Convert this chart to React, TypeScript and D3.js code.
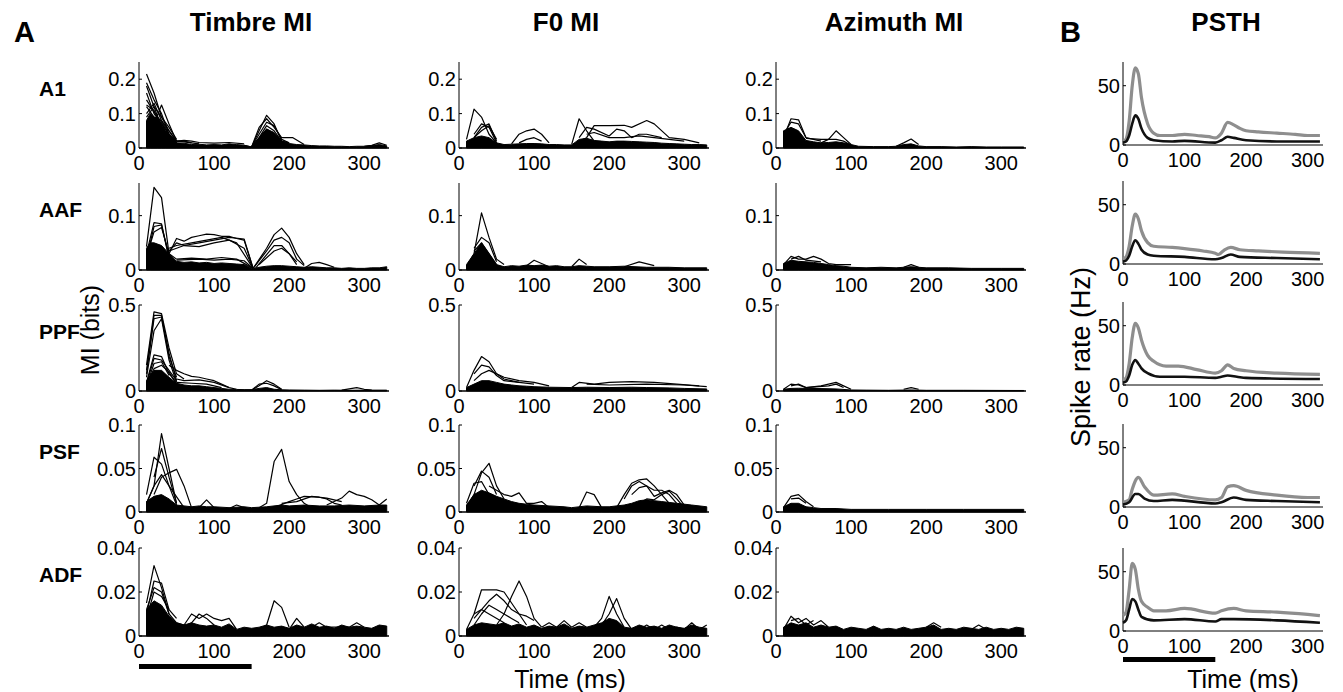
import React from "react";
import * as d3 from "d3";

type P = [number, number];

// ---------------- Panel labels / ticks ----------------
const rowNames = ["A1", "AAF", "PPF", "PSF", "ADF"];
const colTitles = ["Timbre MI", "F0 MI", "Azimuth MI"];
const miYMax = [0.25, 0.16, 0.5, 0.1, 0.04];
const miYTicks = [[0, 0.1, 0.2], [0, 0.1], [0, 0.5], [0, 0.05, 0.1], [0, 0.02, 0.04]];
const miXTicks = [0, 100, 200, 300];
const psthYTicks = [0, 50];
const psthXTicks = [0, 100, 200, 300];
const stimulusMs = [0, 150];

// ---------------- Timbre MI ----------------
const timbreA1Mass: P[] = [[10,0.08],[15,0.1],[20,0.09],[25,0.085],[30,0.07],[35,0.05],[40,0.035],[50,0.015],[60,0.014],[70,0.01],[80,0.011],[90,0.009],[100,0.01],[110,0.009],[120,0.012],[130,0.01],[140,0.008],[150,0.003],[160,0.03],[170,0.055],[180,0.045],[190,0.02],[200,0.013],[210,0.01],[220,0.009],[230,0.007],[240,0.006],[250,0.006],[260,0.005],[270,0.005],[280,0.004],[290,0.005],[300,0.005],[310,0.007],[320,0.01],[330,0.006]];
const timbreA1Lines: P[][] = [
  [[10,0.215],[20,0.16],[30,0.09],[40,0.05],[50,0.02],[60,0.018],[80,0.012]],
  [[10,0.19],[20,0.14],[30,0.1],[40,0.04],[50,0.015]],
  [[10,0.18],[20,0.12],[30,0.06],[50,0.012]],
  [[10,0.05],[20,0.07],[30,0.125],[40,0.07],[50,0.02],[60,0.02],[70,0.015]],
  [[10,0.125],[20,0.11],[30,0.06],[40,0.03],[50,0.01]],
  [[10,0.12],[20,0.09],[30,0.08],[40,0.05],[50,0.02]],
  [[10,0.1],[20,0.13],[30,0.08],[40,0.04],[50,0.015]],
  [[10,0.16],[20,0.1],[30,0.07],[40,0.04],[50,0.02]],
  [[10,0.09],[20,0.12],[30,0.09],[40,0.06],[50,0.025]],
  [[10,0.14],[20,0.105],[30,0.075],[40,0.035],[50,0.015]],
  [[140,0.008],[150,0.003],[160,0.05],[170,0.095],[180,0.07],[190,0.02],[200,0.015]],
  [[150,0.003],[160,0.06],[170,0.085],[180,0.06],[190,0.03],[200,0.03],[205,0.03],[220,0.01]],
  [[150,0.003],[160,0.04],[170,0.075],[180,0.065],[190,0.025],[200,0.015]],
  [[150,0.003],[160,0.03],[170,0.065],[180,0.05],[190,0.02]],
  [[150,0.003],[170,0.055],[180,0.04],[190,0.015]],
  [[50,0.02],[60,0.022],[70,0.02],[80,0.016],[100,0.014],[120,0.016],[140,0.012]],
  [[300,0.005],[310,0.008],[320,0.015],[330,0.008]],
];
const timbreAAFMass: P[] = [[10,0.04],[15,0.05],[20,0.05],[30,0.045],[40,0.03],[50,0.016],[60,0.014],[70,0.015],[80,0.013],[90,0.014],[100,0.012],[110,0.013],[120,0.012],[130,0.011],[140,0.01],[152,0.002],[160,0.005],[170,0.007],[180,0.008],[190,0.008],[200,0.007],[210,0.006],[220,0.005],[230,0.006],[240,0.005],[250,0.004],[260,0.004],[270,0.003],[280,0.004],[290,0.003],[300,0.003],[310,0.004],[320,0.004],[330,0.006]];
const timbreAAFLines: P[][] = [
  [[10,0.043],[20,0.152],[30,0.133],[40,0.03],[50,0.02]],
  [[10,0.03],[20,0.087],[30,0.085],[40,0.02]],
  [[10,0.02],[20,0.08],[30,0.083],[40,0.025]],
  [[10,0.025],[20,0.07],[30,0.078],[40,0.03]],
  [[40,0.03],[50,0.058],[60,0.053],[70,0.06],[80,0.063],[90,0.066],[100,0.065],[110,0.062],[120,0.062],[130,0.058],[140,0.055],[152,0.003]],
  [[40,0.035],[50,0.05],[60,0.045],[80,0.05],[100,0.055],[120,0.06],[140,0.057],[152,0.003]],
  [[40,0.04],[50,0.045],[70,0.05],[90,0.055],[110,0.06],[130,0.05],[152,0.003]],
  [[40,0.035],[50,0.04],[60,0.045],[80,0.043],[100,0.05],[120,0.055],[140,0.04],[152,0.003]],
  [[50,0.02],[70,0.022],[90,0.02],[110,0.023],[130,0.02],[152,0.003]],
  [[50,0.018],[80,0.02],[100,0.018],[120,0.02],[140,0.017],[152,0.003]],
  [[152,0.003],[170,0.04],[180,0.065],[190,0.077],[200,0.06],[210,0.03],[220,0.01]],
  [[152,0.003],[170,0.035],[180,0.055],[190,0.06],[200,0.05],[210,0.02],[220,0.008]],
  [[155,0.003],[180,0.045],[190,0.045],[200,0.03],[210,0.015]],
  [[160,0.01],[180,0.035],[190,0.04],[200,0.03],[210,0.01]],
  [[220,0.003],[230,0.012],[240,0.014],[250,0.01],[260,0.005]],
];
const timbrePPFMass: P[] = [[10,0.06],[20,0.12],[30,0.12],[40,0.08],[50,0.045],[60,0.035],[70,0.03],[80,0.03],[90,0.025],[100,0.02],[110,0.015],[120,0.01],[130,0.009],[140,0.008],[150,0.008],[160,0.015],[170,0.02],[180,0.01],[190,0.007],[200,0.006],[220,0.005],[240,0.004],[260,0.005],[280,0.004],[300,0.005],[330,0.005]];
const timbrePPFLines: P[][] = [
  [[10,0.15],[20,0.46],[30,0.45],[40,0.25],[50,0.1],[60,0.07]],
  [[10,0.12],[20,0.44],[30,0.44],[40,0.2],[50,0.08]],
  [[10,0.1],[20,0.42],[30,0.43],[40,0.22],[50,0.06]],
  [[10,0.08],[20,0.35],[30,0.42],[40,0.18],[50,0.05]],
  [[10,0.05],[20,0.21],[30,0.2],[40,0.1],[50,0.05]],
  [[10,0.04],[20,0.19],[30,0.18],[40,0.12],[50,0.06]],
  [[10,0.03],[20,0.16],[30,0.17],[40,0.09]],
  [[10,0.04],[20,0.13],[30,0.15],[40,0.11],[50,0.04]],
  [[40,0.15],[50,0.12],[60,0.1],[70,0.085],[80,0.08],[90,0.07],[100,0.06],[110,0.04],[120,0.02],[130,0.01]],
  [[50,0.07],[60,0.06],[80,0.065],[100,0.05],[120,0.02]],
  [[50,0.05],[70,0.045],[90,0.04],[110,0.02]],
  [[150,0.005],[160,0.03],[170,0.06],[180,0.04],[190,0.01]],
  [[150,0.005],[160,0.04],[170,0.045],[180,0.03],[190,0.008]],
  [[270,0.005],[290,0.02],[300,0.01],[310,0.005]],
];
const timbrePSFMass: P[] = [[10,0.012],[20,0.018],[30,0.02],[40,0.015],[50,0.008],[60,0.007],[70,0.006],[80,0.007],[90,0.006],[100,0.006],[120,0.005],[140,0.006],[150,0.005],[170,0.006],[190,0.008],[200,0.007],[220,0.008],[240,0.007],[260,0.007],[280,0.008],[300,0.007],[320,0.008],[330,0.008]];
const timbrePSFLines: P[][] = [
  [[10,0.01],[20,0.03],[30,0.09],[40,0.05],[50,0.01]],
  [[10,0.02],[20,0.063],[30,0.055],[40,0.03],[50,0.008]],
  [[20,0.04],[30,0.073],[40,0.04],[50,0.01]],
  [[20,0.02],[30,0.04],[40,0.045],[50,0.049],[60,0.03],[70,0.005]],
  [[10,0.01],[20,0.03],[30,0.043],[40,0.03],[60,0.005]],
  [[80,0.005],[90,0.014],[100,0.005]],
  [[120,0.004],[130,0.008],[140,0.005]],
  [[160,0.005],[170,0.01],[180,0.058],[190,0.072],[200,0.035],[210,0.02],[220,0.01],[230,0.005]],
  [[180,0.005],[200,0.012],[210,0.015],[220,0.018],[240,0.017],[250,0.015],[260,0.01],[270,0.008]],
  [[190,0.01],[210,0.012],[230,0.018],[250,0.016],[270,0.012]],
  [[250,0.008],[260,0.012],[270,0.016],[280,0.024],[290,0.02],[300,0.018],[310,0.014],[320,0.008],[330,0.015]],
];
const timbreADFMass: P[] = [[10,0.012],[20,0.016],[30,0.014],[40,0.009],[50,0.006],[60,0.005],[70,0.006],[80,0.005],[90,0.0045],[100,0.005],[110,0.004],[120,0.0055],[130,0.003],[140,0.004],[150,0.0035],[160,0.004],[170,0.005],[180,0.004],[190,0.0045],[200,0.0035],[210,0.005],[220,0.004],[230,0.0055],[240,0.004],[250,0.0045],[260,0.0035],[270,0.005],[280,0.004],[290,0.0045],[300,0.004],[310,0.0035],[320,0.005],[330,0.0045]];
const timbreADFLines: P[][] = [
  [[10,0.015],[20,0.032],[30,0.022],[40,0.01],[50,0.006]],
  [[10,0.01],[20,0.025],[30,0.024],[40,0.012]],
  [[10,0.012],[20,0.022],[30,0.02],[40,0.01]],
  [[10,0.008],[20,0.02],[30,0.018],[40,0.012],[50,0.008]],
  [[50,0.006],[60,0.005],[70,0.01],[80,0.008],[90,0.01],[100,0.008],[110,0.007],[120,0.008],[130,0.003]],
  [[60,0.004],[70,0.006],[80,0.01],[90,0.008],[100,0.005]],
  [[160,0.003],[170,0.005],[180,0.016],[190,0.013],[200,0.004]],
  [[200,0.003],[210,0.008],[220,0.004]],
  [[230,0.004],[240,0.006],[250,0.004],[280,0.004],[290,0.006],[300,0.004]],
];

// ---------------- F0 MI ----------------
const f0A1Mass: P[] = [[10,0.02],[20,0.03],[30,0.035],[40,0.03],[50,0.015],[60,0.01],[70,0.011],[80,0.012],[90,0.013],[100,0.013],[110,0.012],[120,0.01],[130,0.01],[140,0.009],[150,0.009],[160,0.025],[170,0.028],[180,0.022],[190,0.02],[200,0.018],[210,0.02],[220,0.02],[230,0.019],[240,0.018],[250,0.017],[260,0.016],[270,0.014],[280,0.013],[290,0.012],[300,0.011],[310,0.01],[320,0.01],[330,0.009]];
const f0A1Lines: P[][] = [
  [[10,0.025],[20,0.113],[30,0.09],[40,0.04],[50,0.015]],
  [[20,0.03],[30,0.06],[40,0.07],[50,0.02]],
  [[20,0.04],[30,0.07],[40,0.06],[50,0.015]],
  [[20,0.03],[30,0.05],[40,0.065],[50,0.025]],
  [[70,0.012],[80,0.04],[90,0.05],[100,0.055],[110,0.04],[120,0.015]],
  [[80,0.015],[90,0.025],[100,0.03],[110,0.02]],
  [[150,0.01],[160,0.085],[170,0.05],[180,0.02]],
  [[160,0.02],[170,0.03],[180,0.065],[200,0.065],[220,0.066],[230,0.06],[250,0.08],[260,0.07],[280,0.03],[300,0.025],[320,0.015]],
  [[160,0.03],[170,0.06],[180,0.055],[200,0.035],[210,0.055],[220,0.05],[230,0.03],[240,0.04],[250,0.04],[270,0.03]],
  [[170,0.04],[180,0.045],[200,0.03],[220,0.03],[240,0.035],[260,0.03],[280,0.025],[300,0.02]],
];
const f0AAFMass: P[] = [[10,0.01],[20,0.03],[30,0.05],[40,0.03],[50,0.01],[60,0.006],[70,0.008],[80,0.007],[90,0.009],[100,0.008],[110,0.009],[120,0.007],[130,0.008],[140,0.006],[150,0.006],[160,0.008],[170,0.007],[180,0.006],[200,0.006],[220,0.007],[250,0.005],[280,0.005],[300,0.004],[330,0.004]];
const f0AAFLines: P[][] = [
  [[10,0.005],[20,0.03],[30,0.105],[40,0.06],[50,0.02],[60,0.01]],
  [[20,0.04],[30,0.06],[40,0.05],[50,0.015]],
  [[20,0.035],[30,0.05],[40,0.03],[50,0.01]],
  [[90,0.008],[100,0.018],[110,0.012],[120,0.006]],
  [[150,0.006],[160,0.02],[170,0.01]],
  [[220,0.006],[240,0.015],[260,0.008]],
];
const f0PPFMass: P[] = [[10,0.02],[20,0.04],[30,0.06],[40,0.06],[50,0.05],[60,0.04],[70,0.035],[80,0.03],[90,0.028],[100,0.025],[120,0.022],[150,0.02],[170,0.022],[200,0.02],[230,0.022],[250,0.02],[280,0.018],[300,0.015],[330,0.012]];
const f0PPFLines: P[][] = [
  [[10,0.02],[20,0.12],[30,0.2],[40,0.17],[50,0.1],[60,0.07],[80,0.05]],
  [[20,0.1],[30,0.15],[40,0.14],[50,0.09],[60,0.06],[80,0.05],[100,0.04]],
  [[20,0.06],[30,0.1],[40,0.12],[60,0.08],[80,0.06],[100,0.05],[120,0.03]],
  [[150,0.02],[160,0.05],[180,0.04],[200,0.05],[230,0.055],[260,0.05],[290,0.04],[320,0.03]],
  [[170,0.04],[200,0.035],[250,0.04],[300,0.035],[330,0.025]],
];
const f0PSFMass: P[] = [[10,0.008],[20,0.02],[30,0.025],[40,0.022],[50,0.018],[60,0.015],[70,0.012],[80,0.01],[90,0.009],[100,0.008],[120,0.007],[140,0.006],[150,0.005],[170,0.007],[190,0.006],[200,0.006],[220,0.008],[230,0.01],[240,0.013],[250,0.014],[260,0.013],[270,0.012],[280,0.011],[290,0.01],[310,0.008],[330,0.006]];
const f0PSFLines: P[][] = [
  [[10,0.005],[20,0.02],[30,0.045],[40,0.056],[50,0.03],[60,0.015]],
  [[20,0.03],[30,0.047],[40,0.04],[50,0.02]],
  [[10,0.01],[20,0.033],[30,0.035],[40,0.02]],
  [[40,0.03],[50,0.025],[60,0.02],[70,0.018],[80,0.022],[90,0.01],[100,0.01],[110,0.012],[120,0.005]],
  [[160,0.005],[170,0.023],[180,0.02],[190,0.005]],
  [[210,0.005],[220,0.02],[230,0.033],[240,0.037],[250,0.038],[260,0.03],[270,0.02],[280,0.01]],
  [[220,0.015],[230,0.03],[240,0.035],[250,0.03],[260,0.025],[270,0.025],[280,0.02],[290,0.01]],
  [[230,0.02],[240,0.028],[250,0.03],[260,0.018],[270,0.022],[280,0.025],[290,0.02],[300,0.008]],
  [[240,0.01],[250,0.015],[260,0.014],[270,0.02],[280,0.024],[290,0.015],[300,0.005]],
];
const f0ADFMass: P[] = [[10,0.003],[20,0.005],[30,0.006],[40,0.0055],[50,0.005],[60,0.006],[70,0.0045],[80,0.0055],[90,0.004],[100,0.005],[110,0.0035],[120,0.0045],[130,0.004],[140,0.0055],[150,0.0035],[160,0.0045],[170,0.004],[180,0.005],[190,0.006],[200,0.008],[210,0.007],[220,0.004],[230,0.0035],[240,0.005],[250,0.004],[260,0.0045],[270,0.0035],[280,0.005],[290,0.004],[300,0.0035],[310,0.005],[320,0.004],[330,0.0035]];
const f0ADFLines: P[][] = [
  [[10,0.003],[20,0.01],[30,0.021],[40,0.021],[50,0.021],[60,0.02],[70,0.015],[80,0.01],[90,0.005]],
  [[50,0.005],[60,0.01],[70,0.018],[80,0.025],[90,0.018],[100,0.008],[110,0.004]],
  [[20,0.008],[30,0.012],[40,0.016],[50,0.019],[60,0.016],[70,0.012],[80,0.01],[90,0.009],[100,0.007]],
  [[20,0.005],[30,0.01],[40,0.014],[50,0.012],[60,0.01],[70,0.008],[80,0.006]],
  [[20,0.01],[30,0.012],[40,0.01],[60,0.006]],
  [[110,0.004],[120,0.006],[130,0.004],[140,0.007],[150,0.004],[160,0.006],[170,0.004]],
  [[180,0.004],[190,0.008],[200,0.018],[210,0.01],[220,0.004]],
  [[190,0.005],[200,0.01],[210,0.017],[220,0.008],[230,0.003]],
  [[240,0.003],[250,0.005],[260,0.003],[270,0.005],[280,0.003],[290,0.004],[300,0.003],[310,0.006],[320,0.003],[330,0.005]],
];

// ---------------- Azimuth MI ----------------
const azA1Mass: P[] = [[10,0.05],[20,0.06],[30,0.05],[40,0.022],[50,0.018],[60,0.015],[70,0.016],[80,0.018],[90,0.015],[100,0.01],[110,0.005],[130,0.004],[150,0.004],[160,0.005],[170,0.01],[180,0.012],[190,0.006],[200,0.004],[220,0.004],[240,0.003],[260,0.004],[280,0.003],[300,0.003],[330,0.003]];
const azA1Lines: P[][] = [
  [[10,0.03],[20,0.085],[30,0.082],[40,0.03],[50,0.025],[60,0.02]],
  [[10,0.04],[20,0.075],[30,0.07],[40,0.03]],
  [[40,0.028],[60,0.025],[80,0.025],[90,0.02],[100,0.008]],
  [[60,0.015],[70,0.025],[80,0.05],[90,0.03],[100,0.01]],
  [[160,0.005],[170,0.015],[180,0.026],[190,0.01]],
];
const azAAFMass: P[] = [[10,0.012],[20,0.018],[30,0.016],[40,0.015],[50,0.014],[60,0.012],[70,0.01],[80,0.008],[90,0.007],[100,0.005],[120,0.004],[140,0.005],[160,0.004],[180,0.006],[200,0.004],[230,0.004],[260,0.003],[300,0.003],[330,0.003]];
const azAAFLines: P[][] = [
  [[10,0.01],[20,0.025],[30,0.02],[40,0.02],[50,0.025],[60,0.02],[70,0.012],[80,0.01],[100,0.01]],
  [[20,0.02],[30,0.025],[40,0.018],[60,0.015]],
  [[170,0.005],[180,0.01],[190,0.005]],
];
const azPPFMass: P[] = [[10,0.01],[20,0.015],[30,0.016],[40,0.015],[60,0.014],[80,0.012],[100,0.006],[120,0.005],[150,0.004],[180,0.006],[200,0.004],[250,0.004],[330,0.003]];
const azPPFLines: P[][] = [
  [[10,0.01],[20,0.04],[30,0.035],[40,0.02],[60,0.03],[80,0.05],[90,0.03],[100,0.01]],
  [[20,0.03],[30,0.04],[40,0.02],[70,0.03],[80,0.04],[90,0.02]],
  [[170,0.01],[180,0.02],[190,0.01]],
];
const azPSFMass: P[] = [[10,0.006],[20,0.01],[30,0.01],[40,0.006],[50,0.005],[60,0.004],[80,0.004],[100,0.003],[150,0.003],[200,0.003],[250,0.003],[330,0.003]];
const azPSFLines: P[][] = [
  [[10,0.005],[20,0.018],[30,0.02],[40,0.012],[50,0.006]],
  [[20,0.015],[30,0.016],[40,0.01]],
];
const azADFMass: P[] = [[10,0.004],[20,0.006],[30,0.005],[40,0.006],[50,0.004],[60,0.005],[70,0.004],[80,0.0045],[90,0.003],[100,0.004],[110,0.0035],[120,0.003],[130,0.0045],[140,0.003],[150,0.0035],[160,0.003],[170,0.004],[180,0.003],[190,0.0035],[200,0.004],[210,0.005],[220,0.003],[230,0.0035],[240,0.003],[250,0.004],[260,0.0035],[270,0.003],[280,0.004],[290,0.003],[300,0.0035],[310,0.003],[320,0.004],[330,0.0035]];
const azADFLines: P[][] = [
  [[10,0.003],[20,0.009],[30,0.006],[40,0.008],[50,0.005],[60,0.007],[70,0.004]],
  [[20,0.007],[30,0.008],[40,0.005],[50,0.007]],
  [[200,0.004],[210,0.006],[220,0.004]],
  [[260,0.003],[270,0.005],[280,0.003]],
];

// ---------------- PSTH (Hz) ----------------
const psthA1Gray: P[] = [[0,3],[5,5],[10,20],[15,50],[20,65],[25,60],[30,40],[40,18],[50,10],[60,8],[80,8],[100,9],[120,8],[140,7],[150,6],[160,10],[170,19],[180,17],[190,14],[200,12],[220,11],[250,10],[280,9],[300,8],[320,8]];
const psthA1Black: P[] = [[0,2],[5,3],[10,8],[15,18],[20,25],[25,22],[30,14],[40,6],[50,4],[80,3],[100,3.5],[150,2],[160,4],[170,7],[180,6],[200,4],[250,3],[320,3]];
const psthAAFGray: P[] = [[0,4],[5,6],[10,15],[15,32],[20,42],[25,38],[30,28],[40,18],[50,15],[80,14],[100,13],[130,11],[150,9],[155,8],[165,12],[175,14],[190,12],[220,11],[260,10],[320,9]];
const psthAAFBlack: P[] = [[0,2],[5,3],[10,7],[15,15],[20,20],[25,17],[30,12],[40,8],[50,7],[100,6],[150,4],[160,5],[175,8],[190,6],[250,5],[320,4]];
const psthPPFGray: P[] = [[0,4],[5,6],[10,18],[15,40],[20,52],[25,48],[30,38],[40,25],[50,20],[70,16],[90,16],[120,13],[150,10],[160,12],[170,17],[180,14],[200,12],[250,10],[320,9]];
const psthPPFBlack: P[] = [[0,2],[5,3],[10,8],[15,17],[20,21],[25,18],[30,14],[40,10],[60,7],[100,7],[150,6],[160,7],[170,8],[185,7],[200,6],[320,5]];
const psthPSFGray: P[] = [[0,4],[10,6],[15,15],[25,25],[35,17],[50,10],[80,11],[100,9],[150,6],[160,8],[170,17],[180,18],[200,14],[250,10],[300,8],[320,8]];
const psthPSFBlack: P[] = [[0,2],[10,4],[20,11],[25,11],[35,7],[50,5],[80,6],[150,3],[160,4],[180,8],[200,6],[250,5],[320,4]];
const psthADFGray: P[] = [[0,13],[5,16],[10,35],[15,57],[20,52],[25,35],[30,25],[40,20],[50,17],[70,17],[100,19],[150,15],[160,17],[180,19],[200,17],[250,16],[300,14],[320,13]];
const psthADFBlack: P[] = [[0,7],[5,9],[10,18],[15,27],[20,25],[25,18],[30,12],[50,9],[100,10],[150,8],[160,10],[180,10],[250,9],[320,7]];

const miMass = [
  [timbreA1Mass, f0A1Mass, azA1Mass],
  [timbreAAFMass, f0AAFMass, azAAFMass],
  [timbrePPFMass, f0PPFMass, azPPFMass],
  [timbrePSFMass, f0PSFMass, azPSFMass],
  [timbreADFMass, f0ADFMass, azADFMass],
];
const miLines = [
  [timbreA1Lines, f0A1Lines, azA1Lines],
  [timbreAAFLines, f0AAFLines, azAAFLines],
  [timbrePPFLines, f0PPFLines, azPPFLines],
  [timbrePSFLines, f0PSFLines, azPSFLines],
  [timbreADFLines, f0ADFLines, azADFLines],
];
const psthGray = [psthA1Gray, psthAAFGray, psthPPFGray, psthPSFGray, psthADFGray];
const psthBlack = [psthA1Black, psthAAFBlack, psthPPFBlack, psthPSFBlack, psthADFBlack];

// ---------------- Layout ----------------
const FONT = "'Liberation Sans', Arial, Helvetica, sans-serif";
const rowTop = [62, 183, 305, 425, 548];
const rowBase = [148, 270, 391, 512, 636];
const psthBase = [145, 264, 385, 507, 631];
const colX0 = [139, 459, 776];
const titleCenters = [251, 566, 894];
const MI_W = 250;
const MI_XMAX = 333;
const PSTH_X0 = 1123;
const PSTH_W = 200;
const PSTH_XMAX = 325;
const PSTH_YMAX = 70;
const PSTH_H = 83;
const TICK_FS = 20;

function fmt(v: number) {
  return v === 0 ? "0" : String(v);
}

function MIPanel({ r, c }: { r: number; c: number }) {
  const x = d3.scaleLinear().domain([0, MI_XMAX]).range([colX0[c], colX0[c] + MI_W]);
  const y = d3.scaleLinear().domain([0, miYMax[r]]).range([rowBase[r], rowTop[r]]);
  const line = d3.line<P>().x((d) => x(d[0])).y((d) => y(d[1]));
  const area = d3.area<P>().x((d) => x(d[0])).y0(y(0)).y1((d) => y(d[1]));
  return (
    <g>
      <path d={area(miMass[r][c]) || ""} fill="#000" stroke="#000" strokeWidth={1} strokeLinejoin="round" />
      {miLines[r][c].map((l, i) => (
        <path key={i} d={line(l) || ""} fill="none" stroke="#000" strokeWidth={1.2} strokeLinejoin="round" />
      ))}
      <line x1={x(0)} x2={x(0)} y1={y(miYMax[r])} y2={y(0)} stroke="#000" strokeWidth={1} />
      <line x1={x(0)} x2={x(MI_XMAX)} y1={y(0)} y2={y(0)} stroke="#000" strokeWidth={1.4} />
      {miYTicks[r].map((t) => (
        <g key={t}>
          <line x1={x(0)} x2={x(0) + 3} y1={y(t)} y2={y(t)} stroke="#000" />
          <text x={x(0) - 3} y={y(t)} dy="0.36em" textAnchor="end" fontSize={TICK_FS} fontFamily={FONT}>
            {fmt(t)}
          </text>
        </g>
      ))}
      {miXTicks.map((t) => (
        <text key={t} x={x(t)} y={y(0) + 22} textAnchor="middle" fontSize={TICK_FS} fontFamily={FONT}>
          {t}
        </text>
      ))}
      {r === 4 && c === 0 && (
        <rect x={x(stimulusMs[0])} y={664} width={x(stimulusMs[1]) - x(stimulusMs[0])} height={5} fill="#000" />
      )}
    </g>
  );
}

function PSTHPanel({ r }: { r: number }) {
  const x = d3.scaleLinear().domain([0, PSTH_XMAX]).range([PSTH_X0, PSTH_X0 + PSTH_W]);
  const y = d3.scaleLinear().domain([0, PSTH_YMAX]).range([psthBase[r], psthBase[r] - PSTH_H]);
  const line = d3.line<P>().x((d) => x(d[0])).y((d) => y(d[1])).curve(d3.curveMonotoneX);
  return (
    <g>
      <line x1={x(0)} x2={x(0)} y1={y(PSTH_YMAX)} y2={y(0)} stroke="#000" strokeWidth={1} />
      <line x1={x(0)} x2={x(PSTH_XMAX)} y1={y(0)} y2={y(0)} stroke="#000" strokeWidth={1} />
      <path d={line(psthGray[r]) || ""} fill="none" stroke="#8e8e8e" strokeWidth={3.2} strokeLinejoin="round" />
      <path d={line(psthBlack[r]) || ""} fill="none" stroke="#111" strokeWidth={2.6} strokeLinejoin="round" />
      {psthYTicks.map((t) => (
        <g key={t}>
          <line x1={x(0)} x2={x(0) + 3} y1={y(t)} y2={y(t)} stroke="#000" />
          <text x={x(0) - 3} y={y(t)} dy="0.36em" textAnchor="end" fontSize={TICK_FS} fontFamily={FONT}>
            {t}
          </text>
        </g>
      ))}
      {psthXTicks.map((t) => (
        <text key={t} x={x(t)} y={y(0) + 22} textAnchor="middle" fontSize={TICK_FS} fontFamily={FONT}>
          {t}
        </text>
      ))}
      {r === 4 && (
        <rect x={x(stimulusMs[0])} y={657} width={x(stimulusMs[1]) - x(stimulusMs[0])} height={5} fill="#000" />
      )}
    </g>
  );
}

export default function App() {
  return (
    <svg width={1343} height={692} style={{ position: "absolute", left: 0, top: 0, background: "#fff" }}>
      <rect width={1343} height={692} fill="#fff" />
      <text x={14} y={42} fontSize={29} fontWeight="bold" fontFamily={FONT}>A</text>
      <text x={1060} y={42} fontSize={29} fontWeight="bold" fontFamily={FONT}>B</text>
      {colTitles.map((t, i) => (
        <text key={t} x={titleCenters[i]} y={31} textAnchor="middle" fontSize={26} fontWeight="bold" fontFamily={FONT}>
          {t}
        </text>
      ))}
      <text x={1226} y={31} textAnchor="middle" fontSize={26} fontWeight="bold" fontFamily={FONT}>PSTH</text>
      {rowNames.map((n, r) => (
        <text key={n} x={39} y={rowTop[r] + 34} fontSize={21} fontWeight="bold" fontFamily={FONT}>
          {n}
        </text>
      ))}
      <text transform="translate(99,330) rotate(-90)" textAnchor="middle" fontSize={25} fontFamily={FONT}>MI (bits)</text>
      <text transform="translate(1090,357) rotate(-90)" textAnchor="middle" fontSize={27} fontFamily={FONT}>Spike rate (Hz)</text>
      <text x={570} y={688} textAnchor="middle" fontSize={25} fontFamily={FONT}>Time (ms)</text>
      <text x={1243} y={688} textAnchor="middle" fontSize={25} fontFamily={FONT}>Time (ms)</text>
      {rowNames.map((_, r) =>
        colTitles.map((__, c) => <MIPanel key={`${r}-${c}`} r={r} c={c} />)
      )}
      {rowNames.map((_, r) => (
        <PSTHPanel key={r} r={r} />
      ))}
    </svg>
  );
}
